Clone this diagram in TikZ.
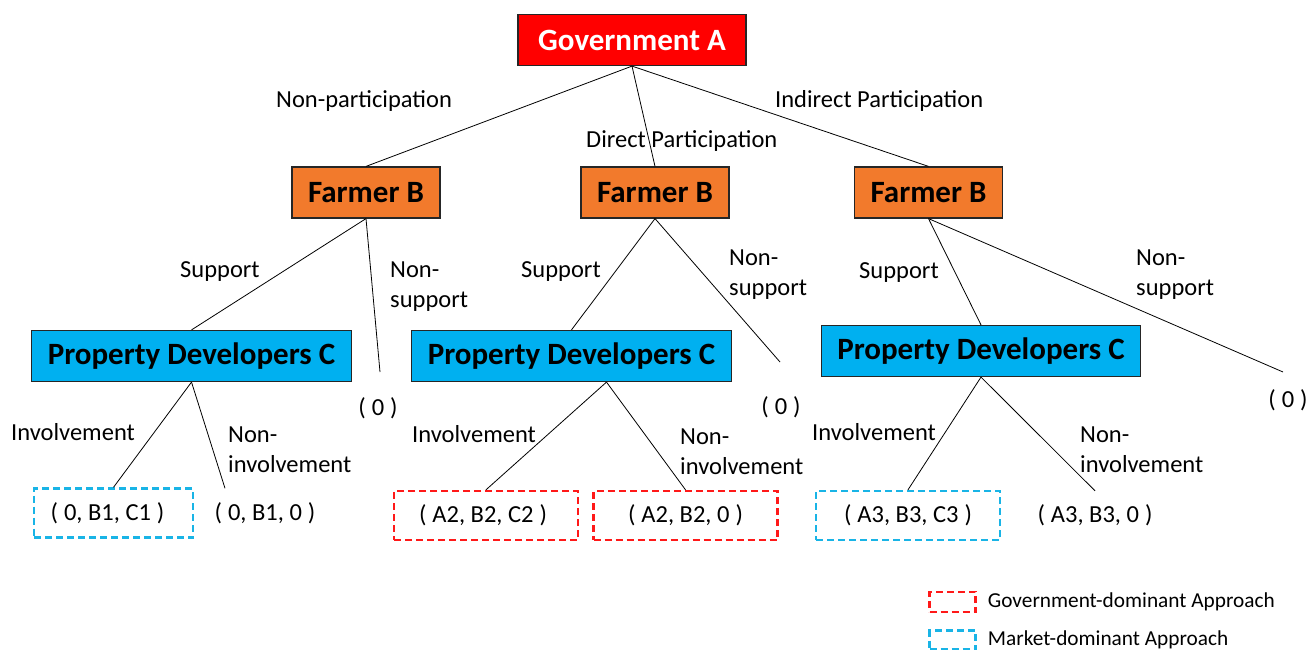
\documentclass[tikz,border=0pt]{standalone}
\usepackage{fontspec}
\setmainfont{Carlito}
\usetikzlibrary{positioning}
\newcommand{\fwl}{(\kern6pt}
\newcommand{\fwr}{\kern6pt)}
\definecolor{govred}{RGB}{255,0,0}
\definecolor{farmorange}{RGB}{242,122,44}
\definecolor{devblue}{RGB}{0,176,240}
\definecolor{dashred}{RGB}{255,25,25}
\definecolor{dashblue}{RGB}{25,180,230}

\begin{document}
\begin{tikzpicture}[x=1pt,y=-1pt,
    player/.style={draw=black!85, line width=1.2pt, inner xsep=16pt,
      minimum height=51pt, font=\fontsize{31}{36}\selectfont\bfseries},
    lbl/.style={font=\fontsize{24.5}{29.5}\selectfont, inner sep=0pt, align=left},
    pay/.style={minimum height=49pt, minimum width=184pt, inner sep=0pt,
      font=\fontsize{24.5}{29.5}\selectfont},
    govbox/.style={pay, draw=dashred, line width=2.4pt, dash pattern=on 7pt off 4pt},
    mktbox/.style={govbox, draw=dashblue},
    branch/.style={line width=0.8pt}]
  \useasboundingbox (0,0) rectangle (1312,650);

  \node[player, fill=govred, text=white, minimum width=228pt] (gov) at (632,40) {Government A};
  \node[player, fill=farmorange] (fb1) at (366,192.5) {Farmer B};
  \node[player, fill=farmorange] (fb2) at (655,192.5) {Farmer B};
  \node[player, fill=farmorange] (fb3) at (928.5,192.5) {Farmer B};
  \node[player, fill=devblue] (pd1) at (191.5,356) {Property Developers C};
  \node[player, fill=devblue] (pd2) at (571.5,356) {Property Developers C};
  \node[player, fill=devblue] (pd3) at (981,351) {Property Developers C};

  \node[mktbox, minimum width=159pt] (p1) at (113.5,513) {\fwl 0, B1, C1\fwr\kern12pt};
  \node[pay] (p2) at (265,513) {\fwl 0, B1, 0\fwr};
  \node[govbox] (p3) at (486,515.5) {\fwl A2, B2, C2\fwr\kern6pt};
  \node[govbox] (p4) at (685.5,515.5) {\fwl A2, B2, 0\fwr};
  \node[mktbox] (p5) at (908,515.5) {\fwl A3, B3, C3\fwr};
  \node[pay] (p6) at (1095,515.5) {\fwl A3, B3, 0\fwr};

  \node[lbl] (z1) at (378,408) {\fwl 0\fwr};
  \node[lbl] (z2) at (781,407) {\fwl 0\fwr};
  \node[lbl] (z3) at (1288,400) {\fwl 0\fwr};
  \coordinate (e1) at (380,372);
  \coordinate (e2) at (780,362);
  \coordinate (e3) at (1283,372);

  \draw[branch]
        (gov.south) edge (fb1.north)
        (gov.south) edge (fb2.north)
        (gov.south) edge (fb3.north)
        (fb1.south) edge (pd1.north)
        (fb1.south) edge (e1)
        (fb2.south) edge (pd2.north)
        (fb2.south) edge (e2)
        (fb3.south) edge (pd3.north)
        (fb3.south) edge (e3)
        (pd1.south) edge (p1.north)
        (pd1.south) edge ([xshift=-40pt]p2.north)
        ([xshift=35pt]pd2.south) edge (p3.north)
        ([xshift=35pt]pd2.south) edge (p4.north)
        (pd3.south) edge (p5.north)
        (pd3.south) edge (p6.north);

  \node[lbl, anchor=base west] (npart) at (276,108) {Non-participation};
  \node[lbl, anchor=base west] (dpart) at (586,148) {Direct Participation};
  \node[lbl, anchor=base west] (ipart) at (775,108) {Indirect Participation};
  \node[lbl, anchor=base west] (sup1) at (180,277) {Support};
  \node[lbl, anchor=base west] (sup2) at (521,277) {Support};
  \node[lbl, anchor=base west] (sup3) at (859,278) {Support};
  \node[lbl, anchor=base west] (nsup1) at (390,307) {Non-\\support};
  \node[lbl, anchor=base west] (nsup2) at (729,295) {Non-\\support};
  \node[lbl, anchor=base west] (nsup3) at (1136,295) {Non-\\support};
  \node[lbl, anchor=base west] (inv1) at (11,440) {Involvement};
  \node[lbl, anchor=base west] (inv2) at (412,442) {Involvement};
  \node[lbl, anchor=base west] (inv3) at (812,440) {Involvement};
  \node[lbl, anchor=base west] (ninv1) at (228,472) {Non-\\involvement};
  \node[lbl, anchor=base west] (ninv2) at (680,474) {Non-\\involvement};
  \node[lbl, anchor=base west] (ninv3) at (1080,472) {Non-\\involvement};

  \node[govbox, minimum width=46pt, minimum height=20pt] (leg1) at (952.5,602) {};
  \node[mktbox, minimum width=46pt, minimum height=19pt] (leg2) at (952.5,640) {};
  \node[lbl, font=\fontsize{21.3}{25}\selectfont, right=11pt of leg1] (leg1txt)
        {Government-dominant Approach};
  \node[lbl, font=\fontsize{21.3}{25}\selectfont, right=11pt of leg2] (leg2txt)
        {Market-dominant Approach};
\end{tikzpicture}
\end{document}
